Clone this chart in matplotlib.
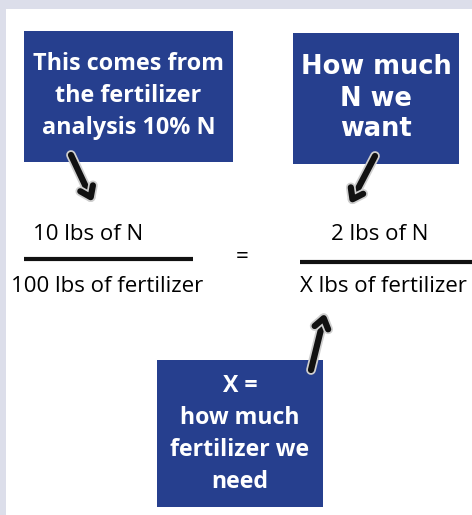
import matplotlib.pyplot as plt
import matplotlib.patheffects as pe
from matplotlib.patches import Rectangle

# box texts
box_texts = ["This comes from\nthe fertilizer\nanalysis 10% N",
             "How much\nN we\nwant",
             "X =\nhow much\nfertilizer we\nneed"]
numerators = ["10 lbs of N", "2 lbs of N"]
denominators = ["100 lbs of fertilizer", "X lbs of fertilizer"]

W, H = 472, 515
fig = plt.figure(figsize=(W / 100, H / 100), dpi=100)
fig.patch.set_facecolor("#dcdeea")
ax = fig.add_axes([0, 0, 1, 1])
ax.set_xlim(0, W)
ax.set_ylim(H, 0)
ax.axis("off")

# white panel
ax.add_patch(Rectangle((6, 9), W - 6, H - 9, facecolor="white", edgecolor="none"))

blue = "#263f8e"
boxes = [(24, 31, 209, 131), (293, 33, 166, 131), (157, 360, 166, 147)]
fonts = [("Open Sans", 16.8, 32), ("DejaVu Sans", 18.5, 31), ("Open Sans", 16.7, 32)]
for (x, y, w, h), txt, (fam, fs, sp) in zip(boxes, box_texts, fonts):
    ax.add_patch(Rectangle((x, y), w, h, facecolor=blue, edgecolor="none"))
    lines = txt.split("\n")
    n = len(lines)
    cy = y + h / 2
    for i, ln in enumerate(lines):
        ax.text(x + w / 2, cy + (i - (n - 1) / 2) * sp, ln, color="white",
                fontsize=fs, fontweight="bold", family=fam,
                ha="center", va="center")

# fraction
fs = 16
ax.text(88, 234, numerators[0], fontsize=fs, family="Open Sans", ha="center", va="center")
ax.text(107, 287, denominators[0], fontsize=fs, family="Open Sans", ha="center", va="center")
ax.plot([24, 193], [259, 259], color="#111111", lw=3, solid_capstyle="butt")
ax.text(242, 258, "=", fontsize=fs, family="Open Sans", ha="center", va="center")
ax.text(380, 234, numerators[1], fontsize=fs, family="Open Sans", ha="center", va="center")
ax.text(383, 287, denominators[1], fontsize=fs, family="Open Sans", ha="center", va="center")
ax.plot([300, 472], [262, 262], color="#111111", lw=3, solid_capstyle="butt")

# arrows
arrows = [((71, 155), (93, 202)), ((375, 156), (350, 204)), ((311, 370), (325, 313))]
for tail, head in arrows:
    ax.annotate("", xy=head, xytext=tail,
                arrowprops=dict(arrowstyle="->,head_length=0.7,head_width=0.5",
                                color="#111111", lw=4.5, shrinkA=0, shrinkB=0,
                                capstyle="round", joinstyle="round",
                                path_effects=[pe.withStroke(linewidth=7, foreground="#cfcfcf")]))

fig.savefig("out.png", dpi=100)
